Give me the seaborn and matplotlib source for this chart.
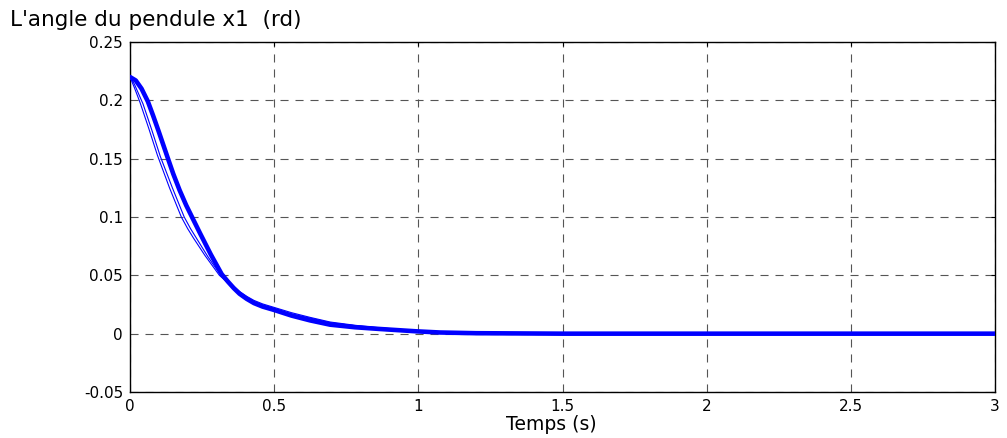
import matplotlib
matplotlib.use("Agg")
import matplotlib.pyplot as plt
import seaborn as sns
import pandas as pd
from matplotlib.ticker import FixedLocator, FixedFormatter

# Pendulum angle x1 (rad) versus time (s): one nominal response (thick)
# and two neighbouring responses (thin).
t_main = [0, 0.02, 0.04, 0.062, 0.08, 0.10, 0.129, 0.15, 0.172, 0.195, 0.217,
          0.243, 0.28, 0.318, 0.34, 0.36, 0.38, 0.405, 0.43, 0.46, 0.5, 0.56,
          0.624, 0.694, 0.78, 0.867, 0.994, 1.075, 1.2, 1.5, 2.0, 2.5, 3.0]
x1_main = [0.220, 0.217, 0.210, 0.199, 0.187, 0.173, 0.152, 0.137, 0.123, 0.110,
           0.099, 0.086, 0.068, 0.051, 0.0445, 0.039, 0.0342, 0.0298, 0.0262,
           0.0232, 0.0203, 0.0155, 0.0114, 0.0077, 0.0055, 0.004, 0.002, 0.001,
           0.0004, 0.0, 0.0, 0.0, 0.0]

t_a = [0, 0.015, 0.035, 0.065, 0.095, 0.137, 0.178, 0.20, 0.22, 0.26, 0.31,
       0.335, 0.36, 0.38, 0.405, 0.43, 0.46, 0.5, 0.56, 0.624, 0.694, 0.78,
       0.867, 0.994, 1.1, 1.3, 1.6, 2.0, 2.5, 3.0]
x1_a = [0.220, 0.211, 0.198, 0.176, 0.153, 0.125, 0.100, 0.090, 0.082, 0.067,
        0.050, 0.0445, 0.0395, 0.0352, 0.031, 0.0275, 0.0245, 0.0215, 0.017,
        0.0134, 0.0095, 0.0068, 0.0048, 0.0024, 0.0012, 0.0004, 0.0001, 0.0,
        0.0, 0.0]

t_b = [0, 0.015, 0.045, 0.075, 0.105, 0.147, 0.188, 0.21, 0.23, 0.27, 0.315,
       0.34, 0.36, 0.38, 0.405, 0.43, 0.46, 0.5, 0.56, 0.624, 0.694, 0.78,
       0.867, 0.994, 1.1, 1.3, 1.6, 2.0, 2.5, 3.0]
x1_b = [0.220, 0.214, 0.197, 0.175, 0.152, 0.125, 0.100, 0.090, 0.082, 0.066,
        0.050, 0.0445, 0.0405, 0.0362, 0.032, 0.0285, 0.0255, 0.0225, 0.018,
        0.014, 0.010, 0.0072, 0.0050, 0.0026, 0.0013, 0.0005, 0.0001, 0.0,
        0.0, 0.0]

x_ticks = [0, 0.5, 1, 1.5, 2, 2.5, 3]
x_tick_labels = ["0", "0.5", "1", "1.5", "2", "2.5", "3"]
y_ticks = [-0.05, 0, 0.05, 0.1, 0.15, 0.2, 0.25]
y_tick_labels = ["-0.05", "0", "0.05", "0.1", "0.15", "0.2", "0.25"]

title_text = "L'angle du pendule x1  (rd)"
xlabel_text = "Temps (s)"

sns.set_theme(style="white")
plt.rcParams["font.family"] = ["DejaVu Sans"]
plt.rcParams["lines.scale_dashes"] = False
plt.rcParams["text.color"] = "black"
plt.rcParams["axes.labelcolor"] = "black"

W, H = 1007, 438
fig = plt.figure(figsize=(W / 100, H / 100), dpi=100)
fig.patch.set_facecolor("white")
ax = fig.add_axes([130 / W, 46 / H, 865 / W, 350 / H])
ax.set_facecolor("white")

df_main = pd.DataFrame({"t": t_main, "x1": x1_main})
df_a = pd.DataFrame({"t": t_a, "x1": x1_a})
df_b = pd.DataFrame({"t": t_b, "x1": x1_b})

sns.lineplot(data=df_main, x="t", y="x1", ax=ax, color="#0000ff",
             linewidth=3.3, sort=False, zorder=3)
sns.lineplot(data=df_a, x="t", y="x1", ax=ax, color="#0000ff",
             linewidth=0.8, sort=False, zorder=4)
sns.lineplot(data=df_b, x="t", y="x1", ax=ax, color="#0000ff",
             linewidth=0.8, sort=False, zorder=4)

ax.set_xlim(0, 3)
ax.set_ylim(-0.05, 0.25)
ax.xaxis.set_major_locator(FixedLocator(x_ticks))
ax.xaxis.set_major_formatter(FixedFormatter(x_tick_labels))
ax.yaxis.set_major_locator(FixedLocator(y_ticks))
ax.yaxis.set_major_formatter(FixedFormatter(y_tick_labels))

ax.grid(True, color="#555555", linewidth=0.8, linestyle=(0, (5.8, 5.0)))
ax.set_axisbelow(True)
ax.tick_params(direction="in", length=3.2, width=0.8, colors="black",
               labelcolor="black", top=True, right=True, labelsize=11, pad=5)
for s in ax.spines.values():
    s.set_visible(True)
    s.set_color("black")
    s.set_linewidth(1.0)

ax.set_ylabel("")
ax.set_xlabel(xlabel_text, fontsize=13.5, color="black")
ax.xaxis.set_label_coords((551 - 130) / 865, (392 - 425) / 350)
ax.xaxis.label.set_va("center")

fig.text(10 / W, 1 - 20 / H, title_text, ha="left", va="center",
         fontsize=15.5, color="black")

fig.savefig("out.png", dpi=100, facecolor="white")
